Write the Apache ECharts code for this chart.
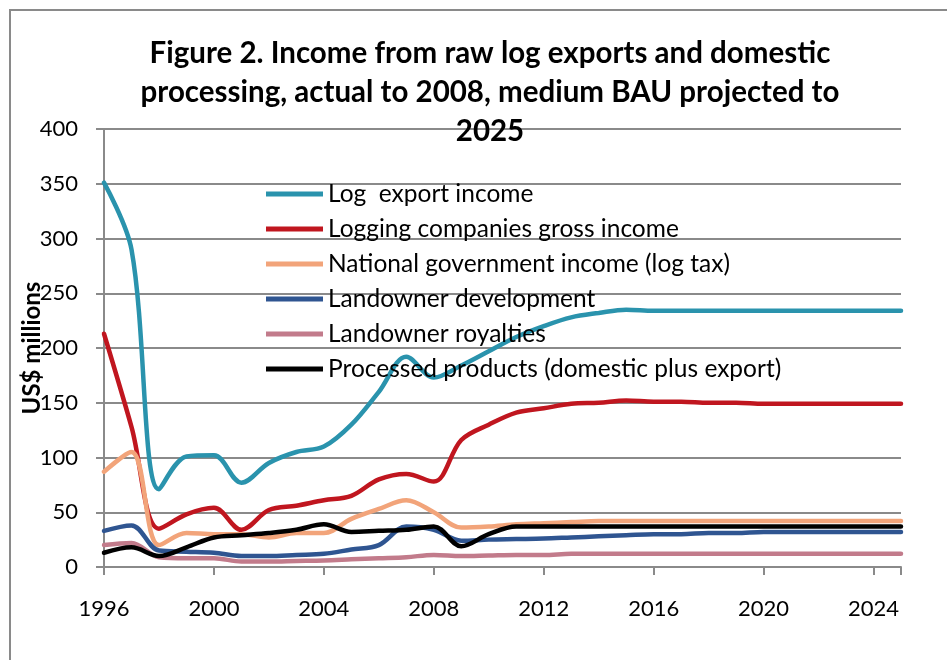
<!DOCTYPE html>
<html>
<head>
<meta charset="utf-8">
<script src="https://cdn.jsdelivr.net/npm/echarts@6/dist/echarts.min.js"></script>
<style>html,body{margin:0;padding:0;background:#fff;}#c{width:947px;height:660px;}</style>
</head>
<body>
<div id="c"></div>
<script>
const years = [1996,1997,1998,1999,2000,2001,2002,2003,2004,2005,2006,2007,2008,2009,2010,2011,2012,2013,2014,2015,2016,2017,2018,2019,2020,2021,2022,2023,2024,2025];
const seriesNames = ["Log  export income","Logging companies gross income","National government income (log tax)","Landowner development","Landowner royalties","Processed products (domestic plus export)"];
const logExport = [351,290,71,101,102,77,95,105,110,130,160,192,173,184,197,210,220,228,232,235,234,234,234,234,234,234,234,234,234,234];
const loggingCompanies = [213,128,35,48,54,34,52,56,61,65,80,85,78,116,130,141,145,149,150,152,151,151,150,150,149,149,149,149,149,149];
const govIncome = [87,105,20,31,30,30,27,31,31,44,53,61,50,36,37,39,40,41,42,42,42,42,42,42,42,42,42,42,42,42];
const landownerDev = [33,38,15,14,13,10,10,11,12,16,20,37,34,24,25,25.5,26,27,28,29,30,30,31,31,32,32,32,32,32,32];
const royalties = [20,22,9,8,8,5,5,5.5,6,7,8,9,11,10,10.5,11,11,12,12,12,12,12,12,12,12,12,12,12,12,12];
const processed = [13,18,10,18,27,29,31,34,39,32,33,34,37,19,30,37,37,37,37,37,37,37,37,37,37,37,37,37,37,37];
const yTicks = [0,50,100,150,200,250,300,350,400];
const xTickYears = [1996,2000,2004,2008,2012,2016,2020,2024];
const colors = ["#2A93AD","#C0161F","#F2A47A","#2F5591","#C27B8B","#000000"];
const allData = [logExport,loggingCompanies,govIncome,landownerDev,royalties,processed];

const FONT = "Lato";
const chart = echarts.init(document.getElementById('c'));
chart.setOption({
  animation:false,
  backgroundColor:'#fff',
  title:{
    text:"Figure 2. Income from raw log exports and domestic\nprocessing, actual to 2008, medium BAU projected to\n2025",
    left:485, top:29, textAlign:'center',
    textStyle:{fontFamily:FONT,fontWeight:'bold',fontSize:29.5,lineHeight:39,color:'#000'}
  },
  graphic:[{type:'rect',shape:{x:10,y:10,width:1000,height:700},style:{fill:'none',stroke:'#8a8a8a',lineWidth:2},z:-1}],
  grid:{left:104,right:46,top:129,height:438},
  legend:{
    orient:'vertical', left:261, top:176, icon:'rect', itemWidth:57, itemHeight:5, itemGap:9,
    textStyle:{fontFamily:FONT,fontSize:24.5,lineHeight:26,color:'#000'},
    data:seriesNames
  },
  xAxis:{
    type:'value', min:1996, max:2025, interval:4,
    axisLine:{lineStyle:{color:'#8a8a8a',width:2}},
    axisTick:{show:true,length:8,lineStyle:{color:'#8a8a8a',width:2}},
    splitLine:{show:false},
    axisLabel:{fontFamily:FONT,fontSize:22,color:'#000',margin:31,formatter:v=>xTickYears.includes(v)?String(v):''}
  },
  yAxis:{
    type:'value', min:yTicks[0], max:yTicks[yTicks.length-1], interval:50,
    name:'US$ millions', nameLocation:'middle', nameRotate:90, nameGap:60, nameMoveOverlap:false,
    nameTextStyle:{fontFamily:FONT,fontWeight:'bold',fontSize:24,color:'#000'},
    axisLine:{show:true,lineStyle:{color:'#8a8a8a',width:2}},
    axisTick:{show:true,length:8,lineStyle:{color:'#8a8a8a',width:2}},
    splitLine:{lineStyle:{color:'#8a8a8a',width:2}},
    axisLabel:{fontFamily:FONT,fontSize:22,color:'#000',margin:26}
  },
  series:seriesNames.map((n,i)=>({
    name:n, type:'line', smooth:0.35, showSymbol:false, symbol:'none',
    data:years.map((y,j)=>[y,allData[i][j]]),
    lineStyle:{color:colors[i],width:4.5,cap:'round'},
    itemStyle:{color:colors[i]}
  }))
});
</script>
</body>
</html>
